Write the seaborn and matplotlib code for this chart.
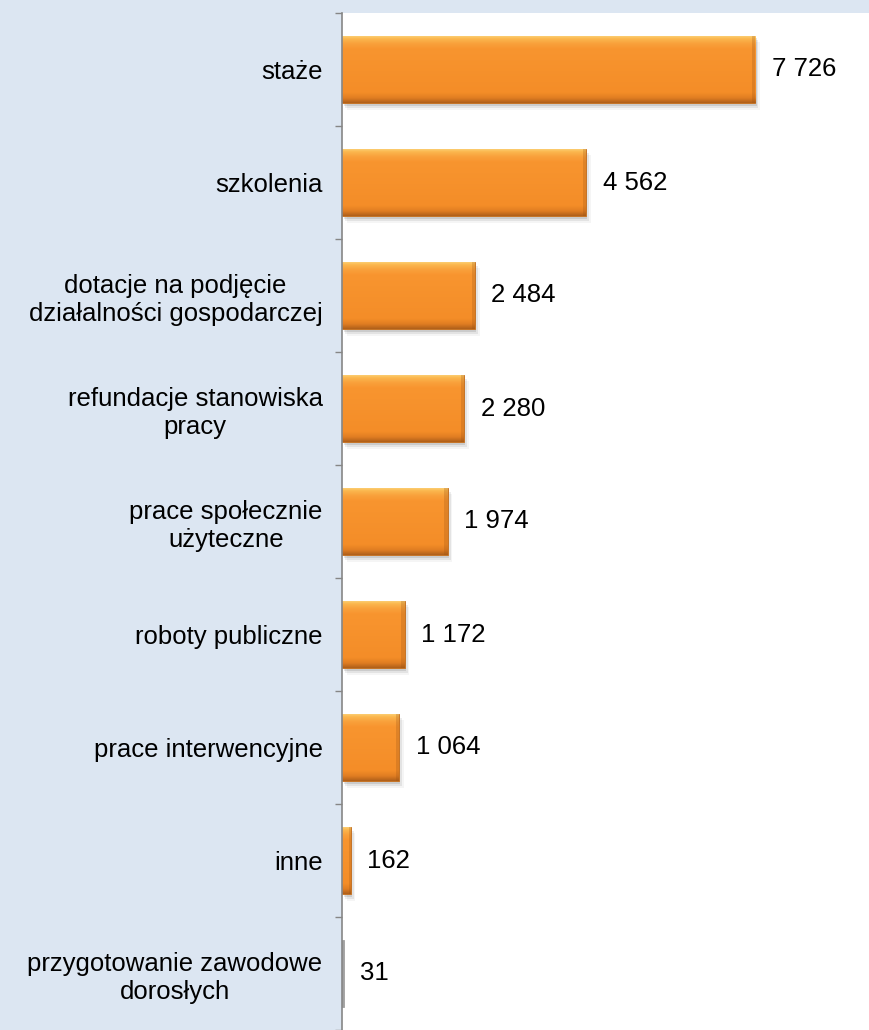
import matplotlib
matplotlib.use("Agg")
import matplotlib.pyplot as plt
from matplotlib.colors import LinearSegmentedColormap
import seaborn as sns
import numpy as np
import pandas as pd

categories = ["staże", "szkolenia", "dotacje na podjęcie\ndziałalności gospodarczej",
              "refundacje stanowiska\npracy", "prace społecznie\nużyteczne",
              "roboty publiczne", "prace interwencyjne", "inne",
              "przygotowanie zawodowe\ndorosłych"]
values = [7726, 4562, 2484, 2280, 1974, 1172, 1064, 162, 31]
value_labels = ["7 726", "4 562", "2 484", "2 280", "1 974", "1 172", "1 064", "162", "31"]

df = pd.DataFrame({"kategoria": categories, "liczba": values})

sns.set_style("white")
plt.rcParams["font.family"] = ["Liberation Sans", "DejaVu Sans"]

fig = plt.figure(figsize=(8.7, 10.3), dpi=100)
fig.patch.set_facecolor("#DCE6F2")
ax = fig.add_axes([342 / 870, 0, 528 / 870, 1 - 13 / 1030])
ax.set_facecolor("white")

sns.barplot(data=df, x="liczba", y="kategoria", orient="h", ax=ax,
            color="#F7922C", width=0.6, saturation=1,
            edgecolor="#C06A1A", linewidth=0.6)

xmax = 9877
ax.set_xlim(0, xmax)
ax.set_ylim(len(categories) - 0.5, -0.5)

# bevel-like gradient and soft shadow on each bar
cmap = LinearSegmentedColormap.from_list(
    "bar", [(0, "#FCD47C"), (0.05, "#FBB84F"), (0.12, "#F9A13C"), (0.2, "#F8952F"),
            (0.85, "#F48D28"), (0.93, "#E07D22"), (1.0, "#B0601A")])
grad = np.linspace(0, 1, 128).reshape(-1, 1)
for p in ax.patches:
    x0, y0, w, h = p.get_x(), p.get_y(), p.get_width(), p.get_height()
    if w < 50:
        p.set_facecolor("#A0A0A0")
        p.set_edgecolor("#A0A0A0")
        continue
    for k, a in enumerate([0.10, 0.07, 0.04]):
        ax.add_patch(plt.Rectangle((x0 + 30 * (k + 1), y0 + 0.02 * (k + 1)), w, h,
                                   color="#000000", alpha=a, linewidth=0,
                                   zorder=p.get_zorder() - 0.5))
    im = ax.imshow(grad, cmap=cmap, aspect="auto", extent=[x0, x0 + w, y0 + h, y0],
                   origin="upper", zorder=p.get_zorder() + 0.1)
    im.set_clip_path(p)
    # darker right bevel
    ax.add_patch(plt.Rectangle((x0 + w - min(60, w * 0.15), y0), min(60, w * 0.15), h,
                               color="#9A5214", alpha=0.25, linewidth=0,
                               zorder=p.get_zorder() + 0.2))

ax.set_xlim(0, xmax)
ax.set_ylim(len(categories) - 0.5, -0.5)

for i, (v, lab) in enumerate(zip(values, value_labels)):
    ax.annotate(lab, (v, i), xytext=(12, 0), textcoords="offset points",
                va="center", ha="left", fontsize=18.5, color="black")

ax.set_xlabel("")
ax.set_ylabel("")
ax.set_xticks([])
ax.set_yticks(np.arange(len(categories)))
ax.set_yticklabels(categories, fontsize=18.5, color="black", ha="right")
ax.set_yticks(np.arange(len(categories) + 1) - 0.5, minor=True)
ax.tick_params(axis="y", which="major", length=0, pad=14)
ax.tick_params(axis="y", which="minor", length=5, width=1, color="#868686", direction="out", left=True)
for t in ax.get_yticklabels():
    t.set_multialignment("center")
    t.set_linespacing(1.2)

for s in ["top", "right", "bottom"]:
    ax.spines[s].set_visible(False)
ax.spines["left"].set_color("#868686")
ax.spines["left"].set_linewidth(1.2)

fig.savefig("out.png", dpi=100, facecolor=fig.get_facecolor())
